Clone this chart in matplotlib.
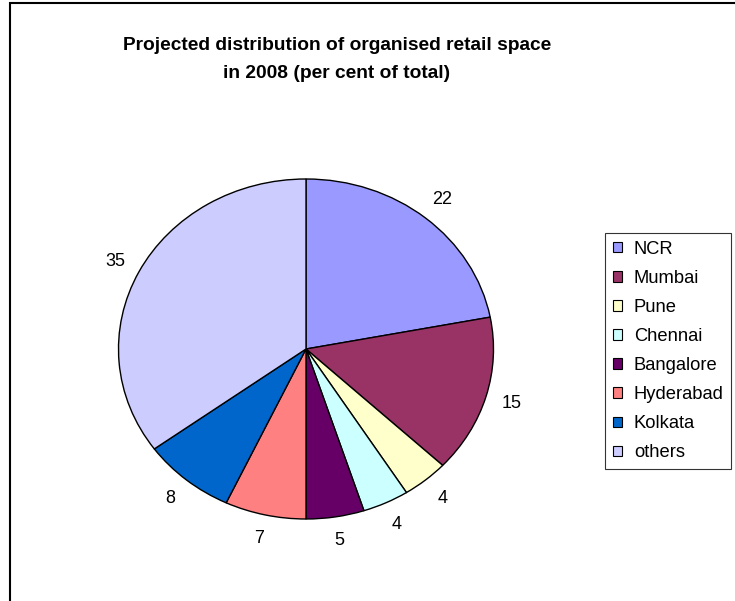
import numpy as np
import matplotlib
matplotlib.use("Agg")
import matplotlib.pyplot as plt
from matplotlib.patches import Rectangle, Patch

plt.rcParams['font.family'] = ['Liberation Sans', 'DejaVu Sans']

cities = ["NCR", "Mumbai", "Pune", "Chennai", "Bangalore", "Hyderabad", "Kolkata", "others"]
shares = [22, 15, 4, 4, 5, 7, 8, 35]
colors = ["#9999FF", "#993366", "#FFFFCC", "#CCFFFF", "#660066", "#FF8080", "#0066CC", "#CCCCFF"]

W, H = 735, 601
fig = plt.figure(figsize=(W / 100, H / 100), dpi=100)
fig.patch.set_facecolor("white")

# chart frame (left and top edges visible)
fig.patches.append(Rectangle((10 / W, -0.05), 1.2, 1.05 - 3 / H,
                             transform=fig.transFigure, fill=False,
                             edgecolor="black", linewidth=1.5, zorder=0))

fig.text(337 / W, 1 - 45 / H, "Projected distribution of organised retail space",
         ha="center", va="center", fontsize=13.8, fontweight="bold")
fig.text(337 / W, 1 - 73 / H, "in 2008 (per cent of total)",
         ha="center", va="center", fontsize=13.8, fontweight="bold")

# elliptical pie: axes box spans the ellipse
cx, cy, rx, ry = 306, 349, 187.5, 170
ax = fig.add_axes([(cx - rx) / W, 1 - (cy + ry) / H, 2 * rx / W, 2 * ry / H])
wedges, _ = ax.pie(shares, colors=colors, startangle=90, counterclock=False,
                   wedgeprops=dict(edgecolor="black", linewidth=1.0))
ax.set_aspect("auto")
ax.set_xlim(-1, 1)
ax.set_ylim(-1, 1)
ax.axis("off")

for w, v in zip(wedges, shares):
    mid = np.deg2rad((w.theta1 + w.theta2) / 2)
    r = 1.14
    ax.text(r * np.cos(mid), r * np.sin(mid), str(v), ha="center", va="center",
            fontsize=13, clip_on=False)

handles = [Patch(facecolor=c, edgecolor="black", linewidth=0.8) for c in colors]
leg = fig.legend(handles, cities, loc="upper left",
                 bbox_to_anchor=(605 / W, 1 - 233 / H),
                 fontsize=13.2, frameon=True, fancybox=False,
                 handlelength=0.5, handleheight=0.5, handletextpad=0.65,
                 labelspacing=0.66, borderpad=0.42, borderaxespad=0)
leg.get_frame().set_edgecolor("black")
leg.get_frame().set_linewidth(0.8)

fig.savefig("out.png", dpi=100)
